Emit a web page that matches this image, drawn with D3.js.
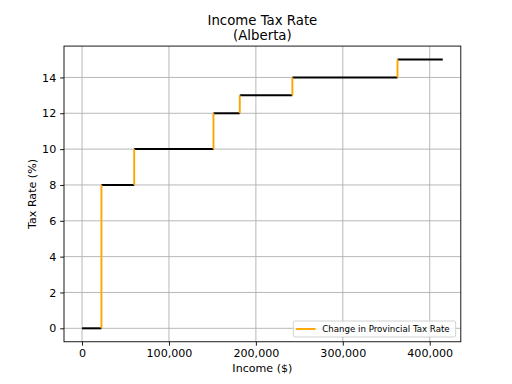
<!DOCTYPE html>
<html>
<head>
<meta charset="utf-8">
<script src="https://cdn.jsdelivr.net/npm/d3@7"></script>
<style>
  body { margin: 0; background: #fff; }
  text { font-family: "DejaVu Sans", sans-serif; }
</style>
</head>
<body>
<svg id="svg" width="512" height="384"></svg>
<script>
// bracket start incomes and the provincial rate from each start
var bracketStart = [0, 22323, 60000, 151234, 181481, 241974, 362961];
var bracketRate = [0, 8, 10, 12, 13, 14, 15];
var lastIncome = 415000;
var xTicks = [0, 100000, 200000, 300000, 400000];
var yTicks = [0, 2, 4, 6, 8, 10, 12, 14];

var W = 512, H = 384;
// plot box (window.top is read only, so own names)
var pLeft = 64, pRight = 460.8, pTop = 46.08, pBottom = 341.76;

const svg = d3.select("#svg");

var x = d3.scaleLinear()
  .domain([-0.05 * lastIncome, 1.05 * lastIncome])
  .range([pLeft, pRight]);
var y = d3.scaleLinear()
  .domain([-0.75, 15.75])
  .range([pBottom, pTop]);

// grid
svg.append("g").selectAll("line").data(xTicks).enter().append("line")
  .attr("x1", d => x(d)).attr("x2", d => x(d))
  .attr("y1", pTop).attr("y2", pBottom)
  .attr("stroke", "#b0b0b0").attr("stroke-width", 0.9);
svg.append("g").selectAll("line").data(yTicks).enter().append("line")
  .attr("y1", d => y(d)).attr("y2", d => y(d))
  .attr("x1", pLeft).attr("x2", pRight)
  .attr("stroke", "#b0b0b0").attr("stroke-width", 0.9);

// segments
var segs = bracketStart.map((s, i) => ({
  x0: s,
  x1: i < bracketStart.length - 1 ? bracketStart[i + 1] : lastIncome,
  r: bracketRate[i]
}));

var g = svg.append("g");
g.selectAll(".h").data(segs).enter().append("line")
  .attr("class", "h")
  .attr("x1", d => x(d.x0)).attr("x2", d => x(d.x1))
  .attr("y1", d => y(d.r)).attr("y2", d => y(d.r))
  .attr("stroke", "#000").attr("stroke-width", 2);

var changes = segs.slice(1).map((d, i) => ({ x: d.x0, r0: segs[i].r, r1: d.r }));
g.selectAll(".v").data(changes).enter().append("line")
  .attr("class", "v")
  .attr("x1", d => x(d.x)).attr("x2", d => x(d.x))
  .attr("y1", d => y(d.r0)).attr("y2", d => y(d.r1))
  .attr("stroke", "orange").attr("stroke-width", 1.9);

// axes
var fmt = d3.format(",");
var xa = svg.append("g")
  .attr("transform", `translate(0,${pBottom})`)
  .call(d3.axisBottom(x).tickValues(xTicks).tickFormat(fmt).tickSize(3.9).tickPadding(3.9));
var ya = svg.append("g")
  .attr("transform", `translate(${pLeft},0)`)
  .call(d3.axisLeft(y).tickValues(yTicks).tickSize(3.9).tickPadding(3.9));
[xa, ya].forEach(a => {
  a.select(".domain").remove();
  a.selectAll("text").attr("font-size", 11.1).attr("fill", "#000")
    .style("font-family", "DejaVu Sans");
  a.selectAll("line").attr("stroke", "#000").attr("stroke-width", 0.9);
});

// frame
svg.append("rect")
  .attr("x", pLeft).attr("y", pTop)
  .attr("width", pRight - pLeft).attr("height", pBottom - pTop)
  .attr("fill", "none").attr("stroke", "#000").attr("stroke-width", 0.9);

// titles
svg.append("text").attr("x", (pLeft + pRight) / 2).attr("y", 25)
  .attr("text-anchor", "middle").attr("font-size", 13.3).text("Income Tax Rate");
svg.append("text").attr("x", (pLeft + pRight) / 2).attr("y", 40)
  .attr("text-anchor", "middle").attr("font-size", 13.3).text("(Alberta)");
svg.append("text").attr("x", (pLeft + pRight) / 2).attr("y", 372)
  .attr("text-anchor", "middle").attr("font-size", 11.1).text("Income ($)");
svg.append("text")
  .attr("transform", `translate(36,${(pTop + pBottom) / 2}) rotate(-90)`)
  .attr("text-anchor", "middle").attr("font-size", 11.1).text("Tax Rate (%)");

// legend
var lg = svg.append("g").attr("transform", "translate(293.3,321)");
lg.append("rect").attr("width", 162.4).attr("height", 16)
  .attr("rx", 2).attr("fill", "#fff").attr("fill-opacity", 0.8)
  .attr("stroke", "#cccccc").attr("stroke-width", 0.9);
lg.append("line").attr("x1", 2.5).attr("x2", 22.3).attr("y1", 8).attr("y2", 8)
  .attr("stroke", "orange").attr("stroke-width", 1.9);
lg.append("text").attr("x", 29).attr("y", 11.2).attr("font-size", 8.65)
  .text("Change in Provincial Tax Rate");
</script>
</body>
</html>
